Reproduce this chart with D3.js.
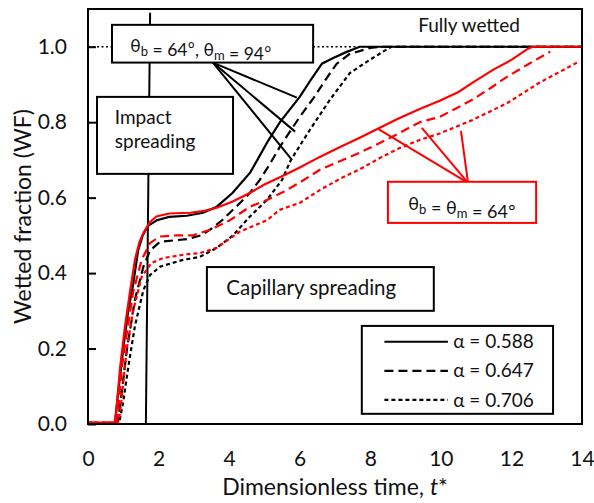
<!DOCTYPE html>
<html>
<head>
<meta charset="utf-8">
<script src="https://cdn.jsdelivr.net/npm/d3@7"></script>
<style>
  body { margin: 0; background: #fff; }
  svg text { font-family: Lato, "Noto Sans", sans-serif; fill: #111; }
</style>
</head>
<body>
<svg id="chart" width="594" height="503"></svg>
<script>
// series: [t*, WF]
var blackSolid = [[0,0],[0.76,0],[0.85,0.08],[1.0,0.2],[1.14,0.30],[1.28,0.37],[1.42,0.46],[1.55,0.50],[1.7,0.525],[1.95,0.54],[2.3,0.549],[2.8,0.552],[3.26,0.56],[3.65,0.576],[4.1,0.613],[4.6,0.667],[4.8,0.70],[5.1,0.75],[5.44,0.80],[6.0,0.867],[6.3,0.91],[6.63,0.955],[6.95,0.97],[7.3,0.985],[7.7,1.0],[14,1.0]];
var blackDashed = [[0,0],[0.84,0],[0.95,0.08],[1.1,0.196],[1.33,0.33],[1.57,0.417],[1.76,0.46],[2.04,0.483],[2.8,0.49],[3.2,0.5],[3.46,0.515],[3.8,0.54],[4.02,0.56],[4.3,0.585],[4.59,0.613],[4.87,0.647],[5.16,0.69],[5.44,0.735],[6.0,0.814],[6.4,0.865],[6.75,0.915],[7.05,0.955],[7.4,0.98],[8.0,0.997],[8.3,1.0],[14,1.0]];
var blackDotted = [[0,0],[0.88,0],[1.0,0.06],[1.14,0.15],[1.33,0.26],[1.57,0.355],[1.76,0.395],[2.04,0.417],[2.69,0.435],[3.17,0.443],[3.65,0.467],[4.11,0.50],[4.59,0.55],[5.07,0.594],[5.5,0.647],[5.75,0.70],[6.29,0.78],[6.86,0.86],[7.42,0.93],[7.9,0.96],[8.36,0.987],[8.6,1.0],[14,1.0]];
var redSolid = [[0,0.004],[0.75,0.004],[0.8,0.03],[0.91,0.15],[1.05,0.26],[1.19,0.35],[1.33,0.435],[1.45,0.48],[1.57,0.506],[1.75,0.535],[1.94,0.55],[2.3,0.558],[2.9,0.56],[3.3,0.565],[3.65,0.573],[4.1,0.59],[4.6,0.613],[5.0,0.635],[5.5,0.657],[6.0,0.68],[6.57,0.708],[7.1,0.732],[7.7,0.759],[8.27,0.785],[8.8,0.81],[9.4,0.835],[9.97,0.857],[10.5,0.88],[10.9,0.905],[11.5,0.94],[12.0,0.965],[12.47,0.995],[12.6,1.0],[14,1.0]];
var redDashed = [[0,0.004],[0.8,0.004],[0.84,0.02],[0.96,0.15],[1.1,0.24],[1.28,0.35],[1.52,0.435],[1.76,0.48],[2.04,0.497],[2.5,0.50],[2.98,0.50],[3.46,0.515],[4.02,0.54],[4.59,0.576],[5.07,0.594],[5.53,0.615],[6.0,0.64],[6.57,0.674],[7.1,0.695],[7.7,0.719],[8.27,0.745],[8.8,0.77],[9.4,0.80],[9.97,0.814],[10.4,0.835],[10.9,0.86],[11.4,0.89],[11.87,0.92],[12.5,0.955],[13.1,0.987]];
var redDotted = [[0,0.004],[0.85,0.004],[0.91,0.03],[1.1,0.2],[1.28,0.30],[1.52,0.39],[1.8,0.427],[2.13,0.44],[2.8,0.45],[3.17,0.453],[3.65,0.467],[4.31,0.51],[5.07,0.54],[5.44,0.568],[6.0,0.586],[6.57,0.62],[7.14,0.65],[7.7,0.675],[8.27,0.705],[8.8,0.73],[9.4,0.753],[9.97,0.77],[10.9,0.806],[11.87,0.85],[12.8,0.905],[13.4,0.935],[13.9,0.96]];

var alphas = ["α = 0.588", "α = 0.647", "α = 0.706"];
var xTicks = [0, 2, 4, 6, 8, 10, 12, 14];
var yTicks = [0, 0.2, 0.4, 0.6, 0.8, 1.0];

var dashes = ["none", "9,5", "4,3"];

var series = [
  {data: blackSolid, color: "#000", dash: dashes[0]},
  {data: blackDashed, color: "#000", dash: dashes[1]},
  {data: blackDotted, color: "#000", dash: dashes[2]},
  {data: redSolid, color: "#ff0000", dash: dashes[0]},
  {data: redDashed, color: "#ff0000", dash: dashes[1]},
  {data: redDotted, color: "#ff0000", dash: dashes[2]}
];

var margin = {top: 9, right: 12, bottom: 79, left: 88};
var width = 594 - margin.left - margin.right;
var height = 503 - margin.top - margin.bottom;

var svg = d3.select("svg#chart");
var g = svg.append("g").attr("transform", `translate(${margin.left},${margin.top})`);

var x = d3.scaleLinear().domain([0, 14]).range([0, width]);
var y = d3.scaleLinear().domain([0, 1.1]).range([height, 0]);

// axes
var xAxis = g.append("g")
  .attr("transform", `translate(0,${height})`)
  .call(d3.axisBottom(x).tickValues(xTicks).tickSize(0).tickPadding(27).tickFormat(d3.format("d")));
var yAxis = g.append("g")
  .call(d3.axisLeft(y).tickValues(yTicks).tickSizeInner(-8).tickSizeOuter(0).tickPadding(21).tickFormat(d3.format(".1f")));
[xAxis, yAxis].forEach(a => {
  a.select(".domain").remove();
  a.selectAll("text").style("font-size", "21px").attr("fill", "#111");
  a.selectAll("line").attr("stroke", "#000").attr("stroke-width", 2);
});

// reference line at WF = 1
g.append("line")
  .attr("x1", x(0)).attr("x2", x(14))
  .attr("y1", y(1)).attr("y2", y(1))
  .attr("stroke", "#000").attr("stroke-width", 1.5).attr("stroke-dasharray", "2,2.5");

// end of impact spreading
g.append("line")
  .attr("x1", x(1.76)).attr("y1", y(1.09))
  .attr("x2", x(1.64)).attr("y2", y(0))
  .attr("stroke", "#000").attr("stroke-width", 2);

var line = d3.line().x(d => x(d[0])).y(d => y(d[1]));

g.selectAll("path.series")
  .data(series)
  .enter().append("path")
  .attr("class", "series")
  .attr("d", d => line(d.data))
  .attr("fill", "none")
  .attr("stroke", d => d.color)
  .attr("stroke-width", 2.2)
  .attr("stroke-dasharray", d => d.dash);

// frame
g.append("rect")
  .attr("width", width).attr("height", height)
  .attr("fill", "none").attr("stroke", "#000").attr("stroke-width", 2);

// leader lines
var blackLeaderFrom = [3.54, 0.958];
var blackLeaderTo = [[5.92, 0.865], [5.87, 0.775], [5.78, 0.70]];
var redLeaderFrom = [10.77, 0.639];
var redLeaderTo = [[8.22, 0.782], [9.46, 0.785], [10.57, 0.777]];

function leaders(from, to, color) {
  g.selectAll(null).data(to).enter().append("line")
    .attr("x1", x(from[0])).attr("y1", y(from[1]))
    .attr("x2", d => x(d[0])).attr("y2", d => y(d[1]))
    .attr("stroke", color).attr("stroke-width", 2);
}
leaders(blackLeaderFrom, blackLeaderTo, "#000");
leaders(redLeaderFrom, redLeaderTo, "#ff0000");

// annotation boxes [t0, v0, t1, v1]
function box(b, color) {
  return g.append("rect")
    .attr("x", x(b[0])).attr("y", y(b[3]))
    .attr("width", x(b[2]) - x(b[0])).attr("height", y(b[1]) - y(b[3]))
    .attr("fill", "#fff").attr("stroke", color).attr("stroke-width", 2);
}
box([0.68, 0.958, 6.38, 1.058], "#000");
box([0.255, 0.663, 4.11, 0.867], "#000");
box([3.37, 0.30, 9.8, 0.416], "#000");
box([8.5, 0.533, 12.7, 0.642], "#ff0000");
box([7.76, 0.027, 13.18, 0.26], "#000");

function theta(t, parts) {
  // parts: [[text, kind], ...]  kind 1 = subscript, 2 = degree sign
  parts.forEach(p => {
    if (p[1] === 1) {
      t.append("tspan").attr("dy", 4).style("font-size", "13px").text(p[0]);
      t.append("tspan").attr("dy", -4).text("");
    } else if (p[1] === 2) {
      t.append("tspan").style("font-family", "'Open Sans', sans-serif").text(p[0]);
    } else {
      t.append("tspan").text(p[0]);
    }
  });
}

var ann = g.append("g").style("font-size", "19px");

var t1 = ann.append("text").attr("x", x(1.2)).attr("y", y(0.985)).style("font-size", "17.5px");
theta(t1, [["θ"], ["b", 1], [" = 64"], ["°", 2], [", θ"], ["m", 1], [" = 94"], ["°", 2]]);

ann.append("text").attr("x", x(0.76)).attr("y", y(0.795)).text("Impact");
ann.append("text").attr("x", x(0.76)).attr("y", y(0.731)).text("spreading");
ann.append("text").attr("x", x(3.92)).attr("y", y(0.342)).style("font-size", "20.5px").text("Capillary spreading");
ann.append("text").attr("x", x(10.8)).attr("y", y(1.04)).attr("text-anchor", "middle").text("Fully wetted");

var t2 = ann.append("text").attr("x", x(10.6)).attr("y", y(0.568)).attr("text-anchor", "middle").style("font-size", "18px");
theta(t2, [["θ"], ["b", 1], [" = θ"], ["m", 1], [" = 64"], ["°", 2]]);

// legend
var legendRows = [0.218, 0.141, 0.064];
var leg = g.append("g");
alphas.forEach((a, i) => {
  leg.append("line")
    .attr("x1", x(8.4)).attr("x2", x(10.2))
    .attr("y1", y(legendRows[i])).attr("y2", y(legendRows[i]))
    .attr("stroke", "#000").attr("stroke-width", 2.2)
    .attr("stroke-dasharray", dashes[i]);
  leg.append("text")
    .attr("x", x(10.35)).attr("y", y(legendRows[i]))
    .attr("dy", "0.35em")
    .style("font-size", "19px")
    .text(a);
});

// axis titles
svg.append("text")
  .attr("x", margin.left + width / 2).attr("y", 495)
  .attr("text-anchor", "middle")
  .style("font-size", "23px")
  .html('Dimensionless time, <tspan font-style="italic">t</tspan>*');

svg.append("text")
  .attr("transform", `translate(31,${margin.top + height / 2}) rotate(-90)`)
  .attr("text-anchor", "middle")
  .style("font-size", "23px")
  .text("Wetted fraction (WF)");
</script>
</body>
</html>
